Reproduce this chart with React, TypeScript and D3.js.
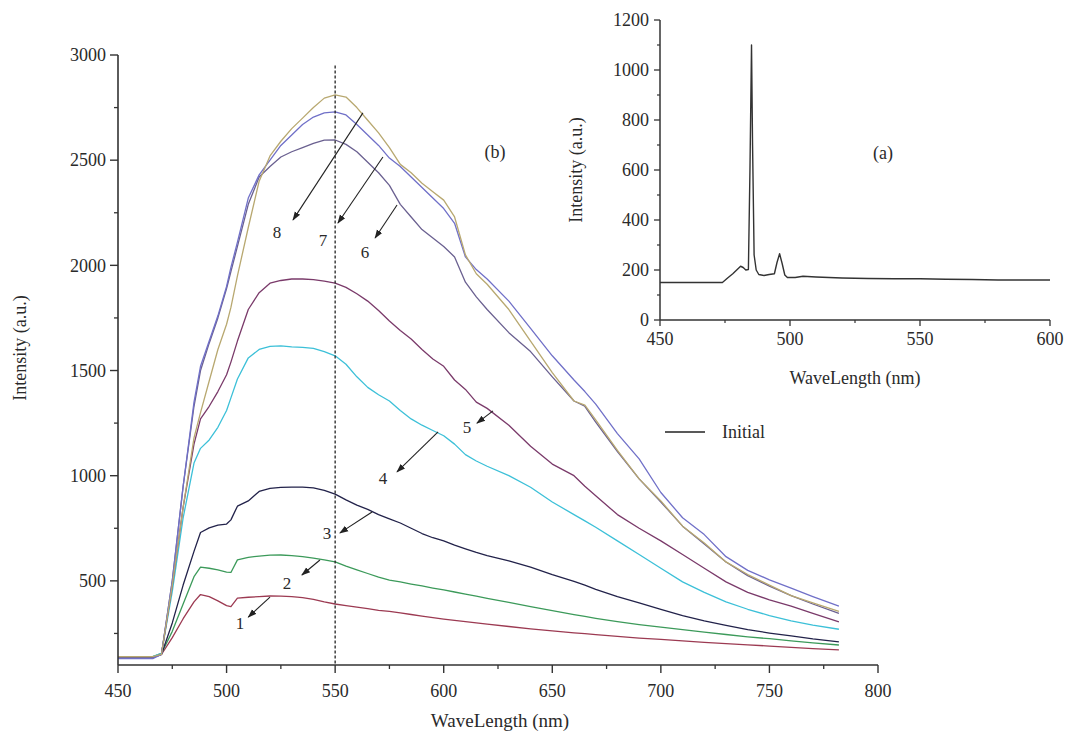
import React from "react";
import * as d3 from "d3";

// ---------- DATA ----------
const WL = [450, 466, 470, 475, 480, 485, 488, 492, 496, 500, 502, 505, 510, 515, 520, 525, 530, 535, 540, 545, 550, 555, 560, 565, 570, 575, 580, 585, 590, 595, 600, 605, 610, 615, 620, 630, 640, 650, 660, 665, 670, 680, 690, 700, 710, 720, 730, 740, 750, 760, 770, 782];

const S1 = [138, 138, 150, 230, 320, 400, 435, 425, 405, 382, 378, 418, 422, 425, 428, 427, 425, 420, 412, 400, 390, 382, 375, 368, 360, 355, 348, 340, 332, 325, 318, 312, 306, 300, 294, 283, 272, 262, 253, 249, 244, 236, 228, 222, 215, 208, 202, 196, 190, 184, 178, 172];
const S2 = [140, 140, 155, 260, 390, 520, 565, 560, 552, 542, 540, 600, 612, 618, 622, 623, 620, 615, 608, 600, 590, 570, 552, 535, 518, 504, 495, 485, 476, 466, 457, 447, 437, 427, 417, 398, 378, 358, 340, 331, 322, 306, 292, 280, 268, 256, 245, 234, 225, 215, 205, 195];
const S3 = [135, 135, 150, 300, 480, 640, 730, 752, 765, 770, 790, 855, 880, 925, 940, 944, 946, 946, 942, 930, 912, 885, 860, 840, 815, 795, 775, 750, 725, 705, 690, 670, 652, 635, 620, 595, 565, 530, 498, 480, 460, 425, 395, 365, 335, 310, 288, 268, 252, 238, 224, 210];
const S4 = [140, 140, 155, 450, 800, 1060, 1130, 1170, 1230, 1310, 1370, 1460, 1560, 1600, 1615, 1617, 1612, 1610, 1605, 1590, 1570, 1530, 1470, 1420, 1385, 1355, 1310, 1270, 1240, 1215, 1190, 1150, 1100, 1070, 1045, 1000, 945, 875, 815, 785, 755, 690, 625, 560, 495, 445, 400, 365, 335, 310, 290, 270];
const S5 = [135, 135, 150, 480, 850, 1150, 1270, 1330, 1400, 1480, 1540, 1640, 1790, 1870, 1915, 1928, 1935, 1935, 1932, 1925, 1915, 1895, 1865, 1830, 1785, 1735, 1690, 1650, 1600, 1555, 1520, 1455, 1410, 1350, 1320, 1240, 1140, 1055, 1000, 950, 905, 815, 750, 690, 625, 560, 495, 445, 410, 380, 345, 305];
const S6 = [135, 135, 150, 500, 950, 1330, 1500, 1630, 1750, 1890, 1970, 2090, 2290, 2420, 2470, 2515, 2540, 2560, 2580, 2595, 2596, 2575, 2540, 2490, 2440, 2380, 2290, 2230, 2170, 2130, 2090, 2040, 1920, 1850, 1790, 1680, 1590, 1470, 1355, 1330, 1255, 1115, 985, 875, 760, 675, 590, 525, 475, 430, 390, 345];
const S7 = [130, 130, 150, 500, 950, 1350, 1520, 1640, 1760, 1900, 1990, 2110, 2320, 2430, 2500, 2570, 2620, 2670, 2705, 2725, 2730, 2715, 2670, 2620, 2570, 2510, 2470, 2420, 2370, 2320, 2270, 2200, 2040, 1980, 1935, 1830, 1700, 1570, 1455, 1400, 1340, 1200, 1080, 920, 800, 720, 615, 550, 505, 465, 425, 380];
const S8 = [140, 140, 150, 480, 850, 1180, 1300, 1450, 1600, 1720, 1800, 1950, 2180, 2400, 2520, 2590, 2650, 2700, 2750, 2795, 2810, 2800, 2750, 2690, 2630, 2560, 2480, 2440, 2390, 2350, 2310, 2230, 2050, 1960, 1910, 1790, 1640, 1490, 1355, 1335, 1265, 1120, 985, 880, 760, 680, 590, 530, 480, 430, 395, 355];

const SERIES = [S1, S2, S3, S4, S5, S6, S7, S8];
const COLORS = ["#9c3a52", "#3c9a5a", "#22224a", "#3cc0d8", "#7a3a6a", "#6a6090", "#7070c8", "#b8a870"];

// arrows: [label, tailWL, tailI, headWL, headI, labelWL, labelI]
const ARROWS: [string, number, number, number, number, number, number][] = [
  ["1", 520, 423, 510, 328, 506.2, 300],
  ["2", 543, 599, 534.7, 528, 527.8, 490],
  ["3", 567, 827, 552.2, 728, 546.3, 728],
  ["4", 597.4, 1208, 578.5, 1018, 572, 989],
  ["5", 622.7, 1308, 615.3, 1250, 610.7, 1231],
  ["6", 578.5, 2287, 568.4, 2130, 563.8, 2064],
  ["7", 572, 2515, 551.3, 2201, 544.4, 2120],
  ["8", 562.8, 2725, 530.6, 2216, 523.2, 2159],
];

const X_MAJOR = [450, 500, 550, 600, 650, 700, 750, 800];
const X_MINOR = [475, 525, 575, 625, 675, 725, 775];
const Y_MAJOR = [500, 1000, 1500, 2000, 2500, 3000];
const Y_MINOR = [250, 750, 1250, 1750, 2250, 2750];

const INSET_WL = [450, 474, 476, 478, 480, 481, 482, 483, 484, 484.6, 485.2, 485.6, 486.2, 487, 488, 490, 492, 494, 495, 496, 497, 498, 499, 502, 505, 510, 520, 530, 540, 550, 560, 570, 580, 590, 600];
const INSET_I = [150, 150, 168, 185, 205, 215, 210, 200, 202, 600, 1100, 700, 260, 200, 182, 178, 182, 185, 230, 265, 225, 180, 170, 170, 175, 172, 168, 166, 165, 165, 163, 162, 160, 160, 160];
const IX_MAJOR = [450, 500, 550, 600];
const IX_MINOR = [475, 525, 575];
const IY_MAJOR = [0, 200, 400, 600, 800, 1000, 1200];
const IY_MINOR = [100, 300, 500, 700, 900, 1100];

const MARKER_WL = 550;

// ---------- COMPONENT ----------
const FONT = '"Liberation Serif", "Times New Roman", serif';
const TXT = "#2a2a2a";
const AX = "#333";

export default function App() {
  const x = d3.scaleLinear().domain([450, 800]).range([118, 878]);
  const y = d3.scaleLinear().domain([100, 3000]).range([665, 55]);
  const ix = d3.scaleLinear().domain([450, 600]).range([660, 1050]);
  const iy = d3.scaleLinear().domain([0, 1200]).range([320, 20]);

  const line = d3
    .line<number>()
    .x((_, i) => x(WL[i]))
    .y((v) => y(v));

  const iline = d3
    .line<number>()
    .x((_, i) => ix(INSET_WL[i]))
    .y((v) => iy(v));

  return (
    <svg
      width={1078}
      height={744}
      style={{ position: "absolute", left: 0, top: 0, background: "#fff" }}
      fontFamily={FONT}
    >
      <defs>
        <marker id="ah" viewBox="0 0 10 10" refX="9" refY="5" markerWidth="9" markerHeight="9" orient="auto" markerUnits="userSpaceOnUse">
          <path d="M0,1.5 L10,5 L0,8.5 z" fill="#222" />
        </marker>
      </defs>
      <rect width={1078} height={744} fill="#fff" />

      {/* series */}
      {SERIES.map((s, k) => (
        <path key={k} d={line(s) || ""} fill="none" stroke={COLORS[k]} strokeWidth={1.3} strokeLinejoin="round" />
      ))}

      {/* dashed marker */}
      <line x1={x(MARKER_WL)} x2={x(MARKER_WL)} y1={y(2950)} y2={y(100)} stroke="#222" strokeWidth={1.3} strokeDasharray="3,2" />

      {/* arrows & labels */}
      {ARROWS.map(([lab, tw, ti, hw, hi, lw, li]) => (
        <g key={lab}>
          <line x1={x(tw)} y1={y(ti)} x2={x(hw)} y2={y(hi)} stroke="#222" strokeWidth={1.1} markerEnd="url(#ah)" />
          <text x={x(lw)} y={y(li)} dy="0.35em" textAnchor="middle" fontSize={17} fill={TXT}>
            {lab}
          </text>
        </g>
      ))}

      {/* main axes */}
      <line x1={x(450)} x2={x(800)} y1={y(100)} y2={y(100)} stroke={AX} strokeWidth={1.6} />
      <line x1={x(450)} x2={x(450)} y1={y(100)} y2={y(3000)} stroke={AX} strokeWidth={1.6} />
      {X_MAJOR.map((t) => (
        <g key={"xm" + t}>
          <line x1={x(t)} x2={x(t)} y1={y(100)} y2={y(100) + 8} stroke={AX} strokeWidth={1.4} />
          <text x={x(t)} y={697} textAnchor="middle" fontSize={18} fill={TXT}>
            {t}
          </text>
        </g>
      ))}
      {X_MINOR.map((t) => (
        <line key={"xn" + t} x1={x(t)} x2={x(t)} y1={y(100)} y2={y(100) + 4} stroke={AX} strokeWidth={1.3} />
      ))}
      {Y_MAJOR.map((t) => (
        <g key={"ym" + t}>
          <line x1={x(450) - 8} x2={x(450)} y1={y(t)} y2={y(t)} stroke={AX} strokeWidth={1.4} />
          <text x={106} y={y(t)} dy="0.35em" textAnchor="end" fontSize={18} fill={TXT}>
            {t}
          </text>
        </g>
      ))}
      {Y_MINOR.map((t) => (
        <line key={"yn" + t} x1={x(450) - 4} x2={x(450)} y1={y(t)} y2={y(t)} stroke={AX} strokeWidth={1.3} />
      ))}
      <text x={500} y={727} textAnchor="middle" fontSize={19} fill={TXT}>
        WaveLength (nm)
      </text>
      <text transform="translate(26,348) rotate(-90)" textAnchor="middle" fontSize={18} fill={TXT}>
        Intensity (a.u.)
      </text>
      <text x={495} y={152} dy="0.35em" textAnchor="middle" fontSize={18} fill={TXT}>
        (b)
      </text>

      {/* legend */}
      <line x1={665} x2={705} y1={432} y2={432} stroke="#222" strokeWidth={1.6} />
      <text x={722} y={432} dy="0.35em" fontSize={18} fill={TXT}>
        Initial
      </text>

      {/* inset */}
      <path d={iline(INSET_I) || ""} fill="none" stroke="#333" strokeWidth={1.4} strokeLinejoin="round" />
      <line x1={ix(450)} x2={ix(600)} y1={iy(0)} y2={iy(0)} stroke={AX} strokeWidth={1.5} />
      <line x1={ix(450)} x2={ix(450)} y1={iy(0)} y2={iy(1200)} stroke={AX} strokeWidth={1.5} />
      {IX_MAJOR.map((t) => (
        <g key={"ixm" + t}>
          <line x1={ix(t)} x2={ix(t)} y1={iy(0)} y2={iy(0) + 6} stroke={AX} strokeWidth={1.3} />
          <text x={ix(t)} y={345} textAnchor="middle" fontSize={18} fill={TXT}>
            {t}
          </text>
        </g>
      ))}
      {IX_MINOR.map((t) => (
        <line key={"ixn" + t} x1={ix(t)} x2={ix(t)} y1={iy(0)} y2={iy(0) + 3} stroke={AX} strokeWidth={1.2} />
      ))}
      {IY_MAJOR.map((t) => (
        <g key={"iym" + t}>
          <line x1={ix(450) - 6} x2={ix(450)} y1={iy(t)} y2={iy(t)} stroke={AX} strokeWidth={1.3} />
          <text x={649} y={iy(t)} dy="0.35em" textAnchor="end" fontSize={18} fill={TXT}>
            {t}
          </text>
        </g>
      ))}
      {IY_MINOR.map((t) => (
        <line key={"iyn" + t} x1={ix(450) - 3} x2={ix(450)} y1={iy(t)} y2={iy(t)} stroke={AX} strokeWidth={1.2} />
      ))}
      <text x={855} y={384} textAnchor="middle" fontSize={18} fill={TXT}>
        WaveLength (nm)
      </text>
      <text transform="translate(582,170) rotate(-90)" textAnchor="middle" fontSize={18} fill={TXT}>
        Intensity (a.u.)
      </text>
      <text x={883} y={153} dy="0.35em" textAnchor="middle" fontSize={18} fill={TXT}>
        (a)
      </text>
    </svg>
  );
}
